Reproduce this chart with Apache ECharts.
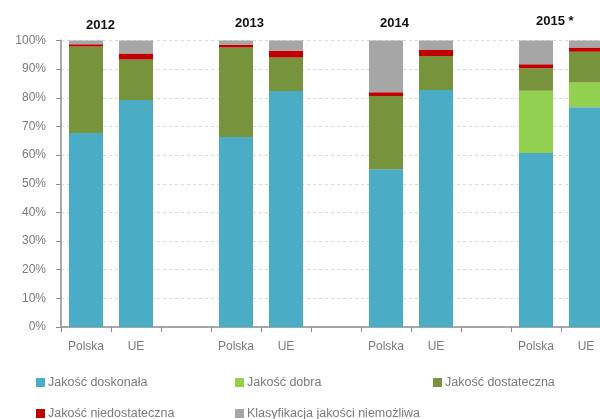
<!DOCTYPE html>
<html>
<head>
<meta charset="utf-8">
<script src="https://cdn.jsdelivr.net/npm/echarts@6/dist/echarts.min.js"></script>
<style>
  html, body { margin: 0; padding: 0; background: #fff; }
  #chart { width: 600px; height: 419px; }
</style>
</head>
<body>
<div id="chart"></div>
<script>
// Bathing water quality classes, share of sites (%) — Polska vs UE, 2012–2015
var categories = ['Polska', 'UE', '', 'Polska', 'UE', '', 'Polska', 'UE', '', 'Polska', 'UE', ''];
var years = ['2012', '2013', '2014', '2015 *'];

var doskonala      = [67.7, 79.2, null, 66.3, 82.4, null, 55.1, 82.7, null, 60.7, 76.7, null];
var dobra          = [0,    0,    null, 0,    0,    null, 0,    0,    null, 21.8, 8.6,  null];
var dostateczna    = [30.2, 14.2, null, 31.3, 11.7, null, 25.5, 11.9, null, 7.8,  10.8, null];
var niedostateczna = [0.8,  2.1,  null, 0.8,  2.3,  null, 1.3,  2.1,  null, 1.4,  1.5,  null];
var niemozliwa     = [1.3,  4.5,  null, 1.6,  3.6,  null, 18.1, 3.3,  null, 8.3,  2.4,  null];

var seriesNames = ['Jakość doskonała', 'Jakość dobra', 'Jakość dostateczna', 'Jakość niedostateczna', 'Klasyfikacja jakości niemożliwa'];
var seriesData = [doskonala, dobra, dostateczna, niedostateczna, niemozliwa];
var colors = ['#4BACC6', '#92D050', '#77933C', '#C00000', '#A6A6A6'];

var FONT = 'Liberation Sans, Arial, sans-serif';
var chart = echarts.init(document.getElementById('chart'), null, { renderer: 'canvas' });

var series = seriesNames.map(function (name, i) {
  return {
    name: name,
    type: 'bar',
    stack: 'total',
    barWidth: 34,
    itemStyle: { color: colors[i] },
    data: seriesData[i]
  };
});

// one legend per entry so the items sit in fixed columns
var legendPos = [
  { left: 36, top: 376 }, { left: 235, top: 376 }, { left: 433, top: 376 },
  { left: 36, top: 407 }, { left: 235, top: 407 }
];
var legends = seriesNames.map(function (name, i) {
  return {
    data: [name],
    left: legendPos[i].left,
    top: legendPos[i].top,
    padding: 0,
    itemWidth: 9,
    itemHeight: 9,
    itemGap: 0,
    selectedMode: false,
    icon: 'rect',
    textStyle: { color: '#7a7a7a', fontSize: 12.5, fontFamily: FONT, padding: [0, 0, 0, -2] }
  };
});

// year captions above each pair of bars
var yearLeft = [86, 235, 380, 536];
var yearTop = [19, 17, 17, 15];
var titles = years.map(function (y, i) {
  return {
    text: y,
    left: yearLeft[i],
    top: yearTop[i],
    padding: 0,
    textStyle: { color: '#111', fontSize: 13, fontWeight: 'bold', fontFamily: FONT }
  };
});

chart.setOption({
  animation: false,
  backgroundColor: '#fff',
  title: titles,
  legend: legends,
  // plot area runs past the right edge of the canvas; the last bar is cut off
  grid: { left: 61, top: 40.5, width: 600, height: 286.5, outerBoundsMode: 'none', containLabel: false },
  xAxis: {
    type: 'category',
    data: categories,
    axisLine: { lineStyle: { color: '#A6A6A6', width: 2 } },
    axisTick: { show: true, length: 5, lineStyle: { color: '#8c8c8c' } },
    axisLabel: { color: '#7a7a7a', fontSize: 12, fontFamily: FONT, margin: 14, interval: 0 }
  },
  yAxis: {
    type: 'value',
    min: 0,
    max: 100,
    interval: 10,
    axisLine: { show: true, lineStyle: { color: '#A6A6A6', width: 2 } },
    axisTick: { show: true, length: 5, lineStyle: { color: '#8c8c8c' } },
    splitLine: { show: true, lineStyle: { color: '#d9d9d9', type: [3, 3] } },
    axisLabel: { color: '#7a7a7a', fontSize: 12, fontFamily: FONT, margin: 15, formatter: '{value}%' }
  },
  series: series
});
</script>
</body>
</html>
